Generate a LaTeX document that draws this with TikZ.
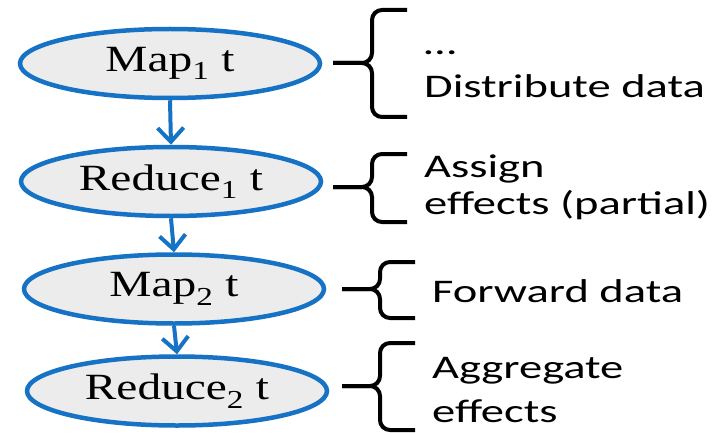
\documentclass[tikz,border=0pt]{standalone}
\usepackage{fontspec}
\usepackage{graphicx}
\setmainfont{Liberation Serif}
\newfontfamily\notefont{Carlito}
\usetikzlibrary{arrows.meta,shapes.geometric}

\definecolor{flowblue}{RGB}{22,114,196}
\definecolor{stagefill}{RGB}{236,236,236}

% wide lettering: stretch a text horizontally only
\newcommand{\widetext}[2]{\scalebox{#1}[1]{#2}}
\newcommand{\stagetext}[1]{\widetext{1.28}{#1}}
\newcommand{\notetext}[1]{\widetext{1.41}{#1}}

\begin{document}
\begin{tikzpicture}[x=1pt,y=-1pt,
  stage/.style={ellipse, draw=flowblue, line width=4.5pt, fill=stagefill,
    minimum width=300pt, minimum height=69pt, inner sep=0pt,
    font=\fontsize{37}{40}\selectfont},
  flow/.style={draw=flowblue, line width=4pt,
    -{Straight Barb[length=14pt,width=26pt]}},
  bracket/.style={draw=black, line width=4pt, rounded corners=10pt},
  note/.style={anchor=base west, inner sep=0pt,
    font=\notefont\fontsize{33}{36}\selectfont}]

\useasboundingbox (0,0) rectangle (722,433);

% stages of the pipeline
\node[stage] (map1) at (170,63.5) {\stagetext{Map\textsubscript{1} t}};
\node[stage] (red1) at (171,181.5) {\stagetext{Reduce\textsubscript{1} t}};
\node[stage] (map2) at (174,289) {\stagetext{Map\textsubscript{2} t}};
\node[stage] (red2) at (177,391) {\stagetext{Reduce\textsubscript{2} t}};

% flow between stages
\draw[flow] (map1.south) -- (red1.north);
\draw[flow] (red1.south) -- (map2.north);
\draw[flow] (map2.south) -- (red2.north);

% braces: top arm, spine, stem / bottom arm, spine, stem
\draw[bracket] (407,10) -- (372,10) -- (372,63) -- (333,63);
\draw[bracket] (407,117) -- (372,117) -- (372,63) -- (333,63);

\draw[bracket] (407,154) -- (372,154) -- (372,187) -- (333,187);
\draw[bracket] (407,222) -- (372,222) -- (372,187) -- (333,187);

\draw[bracket] (415,262) -- (380,262) -- (380,289) -- (342,289);
\draw[bracket] (415,318) -- (380,318) -- (380,289) -- (342,289);

\draw[bracket] (415,343) -- (380,343) -- (380,386) -- (342,386);
\draw[bracket] (415,430) -- (380,430) -- (380,386) -- (342,386);

% descriptions
\node[note] (n1a) at (424,55) {\notetext{…}};
\node[note] (n1b) at (424,98) {\notetext{Distribute data}};
\node[note] (n2a) at (424,177) {\notetext{Assign}};
\node[note] (n2b) at (424,214) {\notetext{effects (partial)}};
\node[note] (n3) at (432,302) {\notetext{Forward data}};
\node[note] (n4a) at (432,378) {\notetext{Aggregate}};
\node[note] (n4b) at (432,422) {\notetext{effects}};
\end{tikzpicture}
\end{document}
